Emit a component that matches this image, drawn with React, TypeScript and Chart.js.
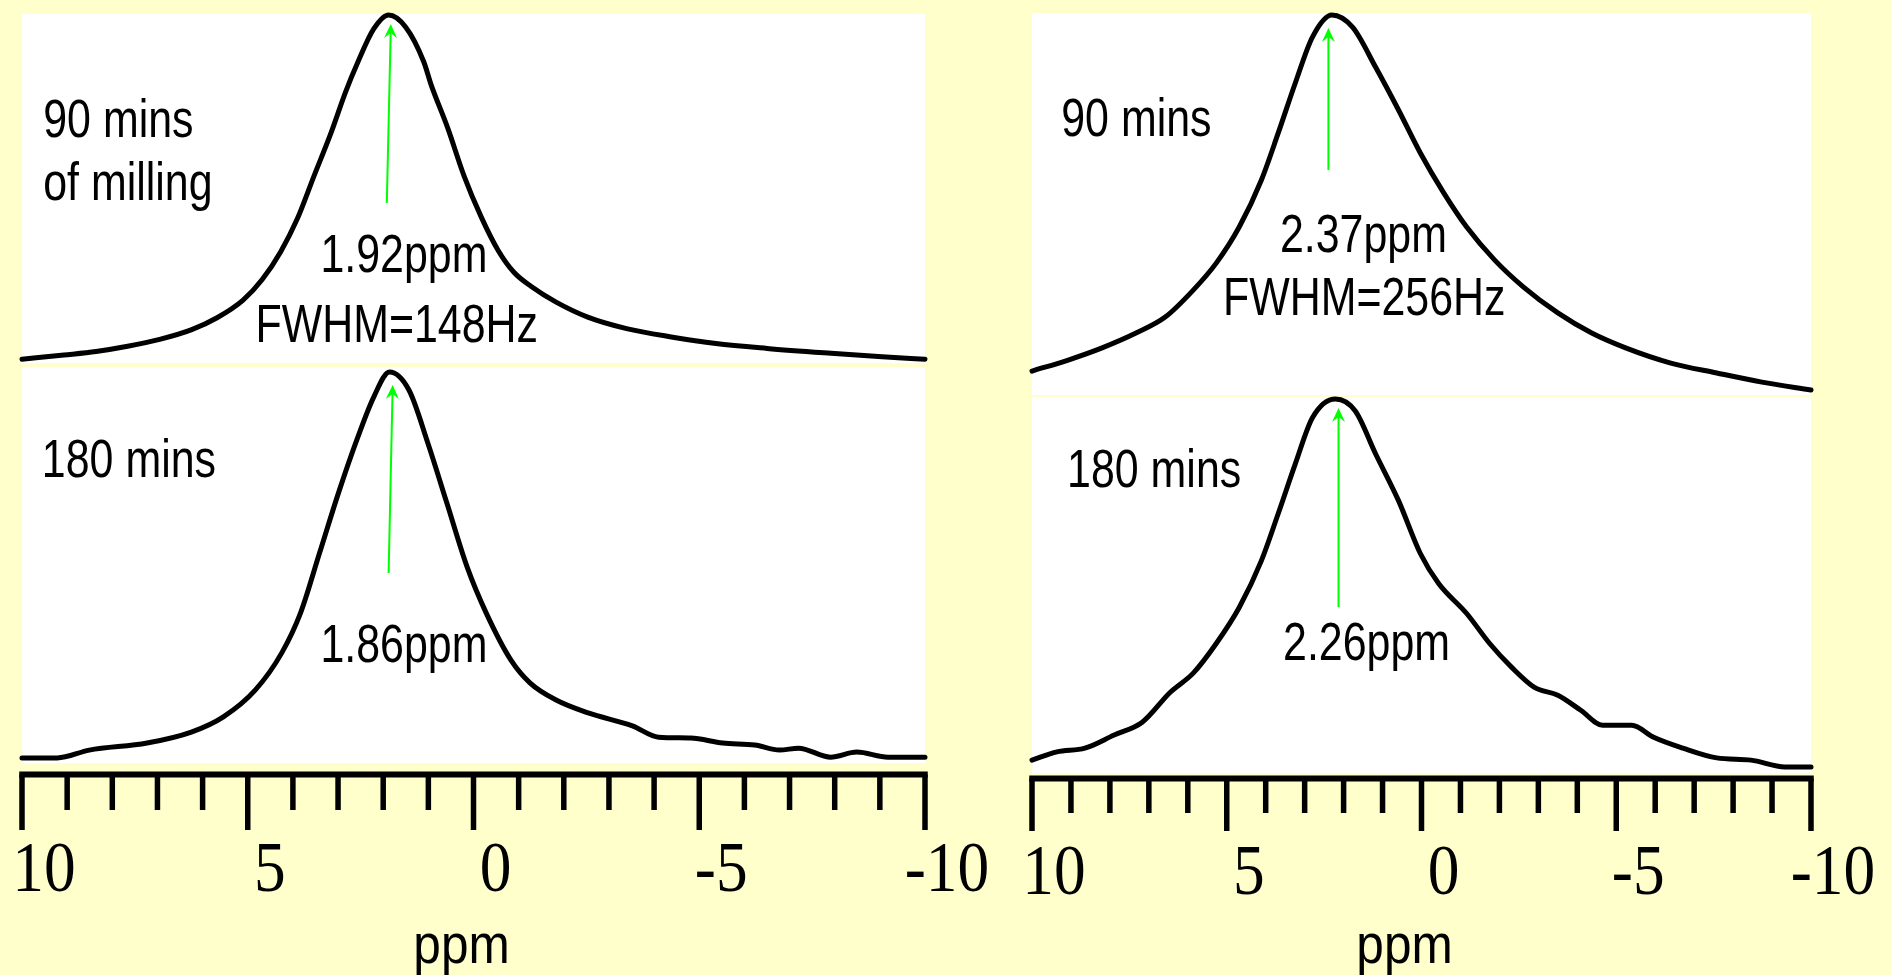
import React, { useEffect, useRef } from "react";
import { Chart, registerables } from "chart.js";

Chart.register(...registerables);

// ---------- data (ppm positions and relative intensities) ----------
const LT_PPM = [10, 9.07, 8.36, 7.66, 6.95, 6.24, 5.68, 5.11, 4.68, 4.27, 3.9, 3.54, 3.16, 2.83, 2.56, 2.21, 1.88, 1.5, 1.1, 0.94, 0.57, 0.21, -0.17, -0.54, -0.9, -1.28, -1.83, -2.53, -3.39, -4.38, -5.37, -6.5, -7.92, -9.05, -10];
const LT_VAL = [1.1, 2.3, 3.3, 4.8, 6.8, 9.6, 13.0, 18.0, 24.0, 32.0, 41.5, 53.5, 66.0, 78.0, 86.5, 96.0, 100, 96.5, 86.5, 80.0, 67.5, 53.8, 42.0, 32.5, 26.0, 22.0, 17.5, 13.2, 9.9, 7.5, 5.6, 4.2, 2.8, 1.8, 1.1];

const LB_PPM = [10, 9.22, 8.51, 7.23, 6.25, 5.54, 4.83, 4.25, 3.83, 3.41, 2.99, 2.56, 2.21, 1.86, 1.43, 1.01, 0.59, 0.14, -0.28, -0.83, -1.25, -1.83, -2.54, -3.52, -4.1, -4.81, -5.52, -6.23, -6.78, -7.2, -7.91, -8.49, -9.18, -10];
const LB_VAL = [1.3, 1.3, 3.3, 5.1, 7.9, 11.8, 18.7, 28.1, 38.4, 53.7, 69.1, 83.4, 93.6, 100, 95.4, 81.8, 66.5, 50.1, 38.4, 26.3, 20.5, 16.1, 12.8, 9.5, 6.6, 6.4, 5.1, 4.6, 3.3, 3.8, 1.5, 2.8, 1.5, 1.5];

const RT_PPM = [10, 9.07, 8.2, 7.33, 6.58, 5.86, 5.27, 4.68, 4.11, 3.68, 3.24, 2.8, 2.3, 1.77, 1.18, 0.59, 0.03, -0.57, -1.16, -1.88, -2.62, -3.5, -4.37, -5.24, -6.4, -7.58, -8.74, -10];
const RT_VAL = [6.3, 9.2, 12.4, 16.3, 20.5, 27.6, 34.7, 44.2, 56.6, 68.9, 82.1, 94.2, 100, 96.8, 86.3, 75.0, 63.7, 53.2, 44.2, 35.5, 28.4, 21.6, 16.3, 12.4, 8.4, 5.8, 3.4, 1.3];

const RB_PPM = [10, 9.36, 8.64, 7.89, 7.17, 6.45, 5.86, 5.27, 4.68, 4.11, 3.68, 3.24, 2.8, 2.21, 1.7, 1.18, 0.59, 0.03, -0.44, -1.16, -1.75, -2.31, -2.9, -3.5, -4.09, -4.65, -5.4, -5.96, -6.71, -7.58, -8.46, -9.33, -10];
const RB_VAL = [3.7, 5.9, 6.9, 10.4, 13.8, 21.8, 26.9, 34.8, 44.4, 56.9, 69.4, 82.7, 95.0, 100, 96.8, 85.4, 72.9, 58.8, 50.8, 42.8, 34.8, 28.5, 23.1, 21.0, 17.0, 13.0, 13.0, 9.8, 6.9, 4.3, 3.7, 1.9, 1.9];

const TICK_VALUES = [10, 9, 8, 7, 6, 5, 4, 3, 2, 1, 0, -1, -2, -3, -4, -5, -6, -7, -8, -9, -10];
const TICK_LABEL_VALUES = [10, 5, 0, -5, -10];
const TICK_LABELS = ["10", "5", "0", "-5", "-10"];
const AXIS_TITLE = "ppm";

// ---------- panel configuration ----------
type Note = { text: string; axis: "yTop" | "yBot"; ppm: number; v: number; align: CanvasTextAlign };
type Arrow = { axis: "yTop" | "yBot"; ppm0: number; v0: number; ppm1: number; v1: number };

interface PanelCfg {
  padding: { left: number; right: number; top: number; bottom: number };
  weights: [number, number];
  topRange: [number, number];
  botRange: [number, number];
  gapTop: number;
  gapBot: number;
  botTrim: number;
  axisOffset: number;
  minorLen: number;
  majorLen: number;
  labelBaseline: number;
  titleBaseline: number;
  titleShift: number;
  notes: Note[];
  arrows: Arrow[];
  top: { ppm: number[]; val: number[] };
  bot: { ppm: number[]; val: number[] };
}

const W = 1891;
const H = 975;

const LEFT_PANEL: PanelCfg = {
  padding: { left: 22, right: W - 925, top: 14, bottom: H - 763 },
  weights: [351, 398],
  topRange: [-0.57, 100.29],
  botRange: [0, 101.8],
  gapTop: 2,
  gapBot: 2,
  botTrim: 0,
  axisOffset: 11.5,
  minorLen: 35.5,
  majorLen: 55.5,
  labelBaseline: 891,
  titleBaseline: 963,
  titleShift: -12,
  notes: [
    { text: "90 mins", axis: "yTop", ppm: 9.53, v: 64.9, align: "left" },
    { text: "of milling", axis: "yTop", ppm: 9.53, v: 46.8, align: "left" },
    { text: "1.92ppm", axis: "yTop", ppm: 1.54, v: 26.1, align: "center" },
    { text: "FWHM=148Hz", axis: "yTop", ppm: 1.7, v: 6.0, align: "center" },
    { text: "180 mins", axis: "yBot", ppm: 9.56, v: 73.1, align: "left" },
    { text: "1.86ppm", axis: "yBot", ppm: 1.54, v: 25.8, align: "center" },
  ],
  arrows: [
    { axis: "yTop", ppm0: 1.92, v0: 46, ppm1: 1.83, v1: 97.4 },
    { axis: "yBot", ppm0: 1.88, v0: 48.6, ppm1: 1.79, v1: 96.7 },
  ],
  top: { ppm: LT_PPM, val: LT_VAL },
  bot: { ppm: LB_PPM, val: LB_VAL },
};

const RIGHT_PANEL: PanelCfg = {
  padding: { left: 1032, right: W - 1811, top: 13, bottom: H - 774 },
  weights: [383, 378],
  topRange: [-0.26, 100.53],
  botRange: [0, 100.8],
  gapTop: 1,
  gapBot: 1,
  botTrim: 1,
  axisOffset: 4.5,
  minorLen: 34.5,
  majorLen: 52.5,
  labelBaseline: 894,
  titleBaseline: 963,
  titleShift: -17,
  notes: [
    { text: "90 mins", axis: "yTop", ppm: 9.25, v: 68.2, align: "left" },
    { text: "2.37ppm", axis: "yTop", ppm: 1.49, v: 37.6, align: "center" },
    { text: "FWHM=256Hz", axis: "yTop", ppm: 1.47, v: 21.1, align: "center" },
    { text: "180 mins", axis: "yBot", ppm: 9.1, v: 76.5, align: "left" },
    { text: "2.26ppm", axis: "yBot", ppm: 1.41, v: 30.4, align: "center" },
  ],
  arrows: [
    { axis: "yTop", ppm0: 2.39, v0: 59.2, ppm1: 2.39, v1: 96.6 },
    { axis: "yBot", ppm0: 2.13, v0: 44.5, ppm1: 2.13, v1: 97.6 },
  ],
  top: { ppm: RT_PPM, val: RT_VAL },
  bot: { ppm: RB_PPM, val: RB_VAL },
};

const BG = "#FFFFCC";
const SANS = "'Liberation Sans', Arial, sans-serif";
const SERIF = "'Liberation Serif', 'Times New Roman', serif";

function condensedText(ctx: CanvasRenderingContext2D, text: string, x: number, y: number, sx: number) {
  ctx.save();
  ctx.translate(x, y);
  ctx.scale(sx, 1);
  ctx.fillText(text, 0, 0);
  ctx.restore();
}

function makePlugin(cfg: PanelCfg) {
  return {
    id: "nmrDecor",
    beforeDatasetsDraw(chart: any) {
      const { ctx, scales } = chart;
      const x = scales.x;
      const yT = scales.yTop;
      const yB = scales.yBot;
      const l = x.getPixelForValue(10);
      const r = x.getPixelForValue(-10);
      ctx.save();
      ctx.fillStyle = "#FFFFFF";
      ctx.fillRect(l, yT.top, r - l, yT.bottom - cfg.gapTop - yT.top);
      ctx.fillRect(l, yB.top + cfg.gapBot, r - l, yB.bottom - cfg.botTrim - yB.top - cfg.gapBot);
      ctx.restore();
    },
    afterDatasetsDraw(chart: any) {
      const { ctx, scales } = chart;
      const x = scales.x;
      ctx.save();
      // green arrows
      for (const a of cfg.arrows) {
        const y = scales[a.axis];
        const x0 = x.getPixelForValue(a.ppm0);
        const y0 = y.getPixelForValue(a.v0);
        const x1 = x.getPixelForValue(a.ppm1);
        const y1 = y.getPixelForValue(a.v1);
        const ang = Math.atan2(y1 - y0, x1 - x0);
        ctx.strokeStyle = "#00FF00";
        ctx.fillStyle = "#00FF00";
        ctx.lineWidth = 2;
        ctx.beginPath();
        ctx.moveTo(x0, y0);
        ctx.lineTo(x1 - Math.cos(ang) * 8, y1 - Math.sin(ang) * 8);
        ctx.stroke();
        const hl = 14;
        const hw = 6.5;
        const bx = x1 - Math.cos(ang) * hl;
        const by = y1 - Math.sin(ang) * hl;
        const nx = -Math.sin(ang);
        const ny = Math.cos(ang);
        ctx.beginPath();
        ctx.moveTo(x1, y1);
        ctx.lineTo(bx + nx * hw, by + ny * hw);
        ctx.lineTo(x1 - Math.cos(ang) * 9, y1 - Math.sin(ang) * 9);
        ctx.lineTo(bx - nx * hw, by - ny * hw);
        ctx.closePath();
        ctx.fill();
      }
      // annotation texts
      ctx.fillStyle = "#000000";
      ctx.font = `53px ${SANS}`;
      ctx.textBaseline = "alphabetic";
      for (const n of cfg.notes) {
        const y = scales[n.axis];
        ctx.textAlign = n.align;
        condensedText(ctx, n.text, x.getPixelForValue(n.ppm), y.getPixelForValue(n.v), 0.81);
      }
      ctx.restore();
    },
    afterDraw(chart: any) {
      const { ctx, scales, chartArea } = chart;
      const x = scales.x;
      const lineY = chartArea.bottom + cfg.axisOffset;
      const l = x.getPixelForValue(10);
      const r = x.getPixelForValue(-10);
      ctx.save();
      ctx.strokeStyle = "#000000";
      ctx.lineCap = "butt";
      ctx.lineWidth = 6;
      ctx.beginPath();
      ctx.moveTo(l - 2.75, lineY);
      ctx.lineTo(r + 2.75, lineY);
      ctx.stroke();
      ctx.lineWidth = 5.5;
      for (const t of TICK_VALUES) {
        const px = x.getPixelForValue(t);
        const major = TICK_LABEL_VALUES.includes(t);
        ctx.beginPath();
        ctx.moveTo(px, lineY);
        ctx.lineTo(px, lineY + (major ? cfg.majorLen : cfg.minorLen));
        ctx.stroke();
      }
      ctx.fillStyle = "#000000";
      ctx.font = `72px ${SERIF}`;
      ctx.textAlign = "center";
      ctx.textBaseline = "alphabetic";
      TICK_LABEL_VALUES.forEach((v, i) => {
        condensedText(ctx, TICK_LABELS[i], x.getPixelForValue(v) + 22, cfg.labelBaseline, 0.88);
      });
      ctx.font = `55px ${SANS}`;
      condensedText(ctx, AXIS_TITLE, x.getPixelForValue(0) + cfg.titleShift, cfg.titleBaseline, 0.9);
      ctx.restore();
    },
  };
}

function toPoints(ppm: number[], val: number[]) {
  return ppm.map((p, i) => ({ x: p, y: val[i] }));
}

function Panel({ cfg }: { cfg: PanelCfg }) {
  const ref = useRef<HTMLCanvasElement | null>(null);
  useEffect(() => {
    if (!ref.current) return;
    const lineStyle = {
      borderColor: "#000000",
      borderWidth: 5,
      pointRadius: 0,
      pointHoverRadius: 0,
      fill: false,
      cubicInterpolationMode: "monotone" as const,
      clip: false as const,
      borderJoinStyle: "round" as const,
      borderCapStyle: "round" as const,
    };
    const chart = new Chart(ref.current, {
      type: "line",
      data: {
        datasets: [
          { ...lineStyle, label: "top", data: toPoints(cfg.top.ppm, cfg.top.val), yAxisID: "yTop" },
          { ...lineStyle, label: "bottom", data: toPoints(cfg.bot.ppm, cfg.bot.val), yAxisID: "yBot" },
        ],
      },
      options: {
        animation: false,
        responsive: false,
        maintainAspectRatio: false,
        devicePixelRatio: 1,
        events: [],
        layout: { padding: cfg.padding },
        plugins: {
          legend: { display: false },
          tooltip: { enabled: false },
          title: { display: false },
        },
        scales: {
          x: { type: "linear", min: -10, max: 10, reverse: true, display: false },
          yTop: {
            type: "linear",
            position: "right",
            stack: "spectra",
            stackWeight: cfg.weights[0],
            min: cfg.topRange[0],
            max: cfg.topRange[1],
            display: false,
          },
          yBot: {
            type: "linear",
            position: "right",
            stack: "spectra",
            stackWeight: cfg.weights[1],
            min: cfg.botRange[0],
            max: cfg.botRange[1],
            display: false,
          },
        },
      } as any,
      plugins: [makePlugin(cfg)],
    });
    return () => chart.destroy();
  }, [cfg]);
  return (
    <canvas
      ref={ref}
      width={W}
      height={H}
      style={{ position: "absolute", left: 0, top: 0, width: W, height: H }}
    />
  );
}

export default function App() {
  return (
    <div
      style={{
        position: "absolute",
        left: 0,
        top: 0,
        width: W,
        height: H,
        background: BG,
        overflow: "hidden",
      }}
    >
      <Panel cfg={LEFT_PANEL} />
      <Panel cfg={RIGHT_PANEL} />
    </div>
  );
}
